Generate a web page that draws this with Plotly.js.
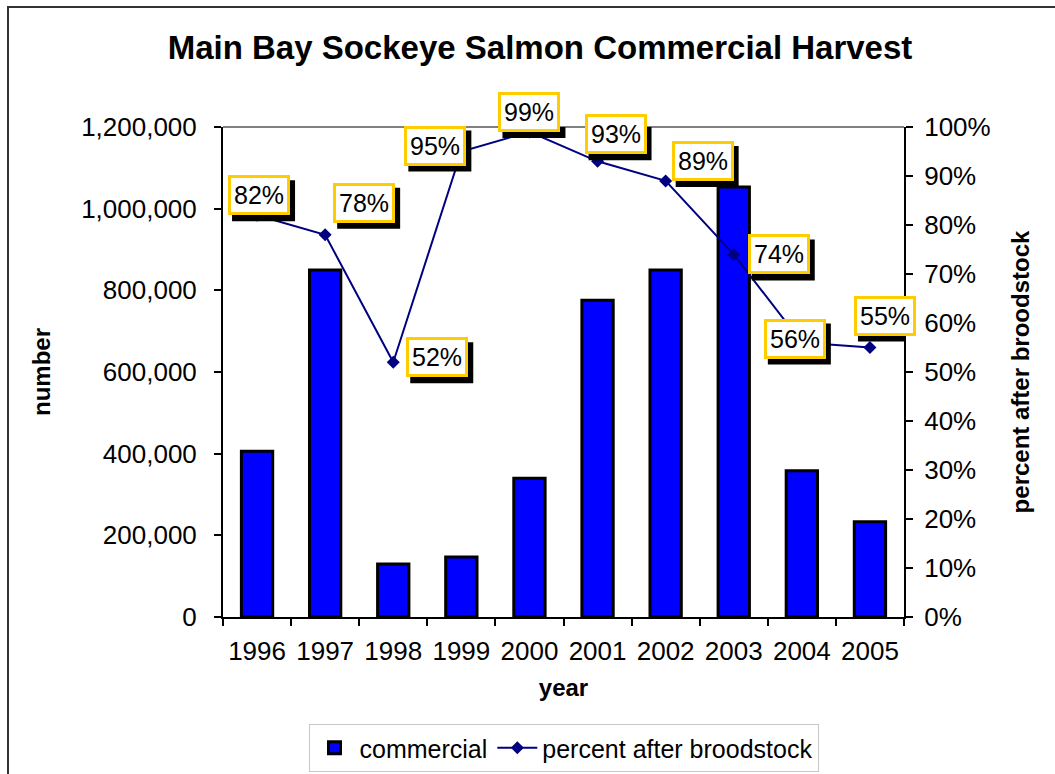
<!DOCTYPE html>
<html>
<head>
<meta charset="utf-8">
<script src="https://cdn.plot.ly/plotly-3.0.1.min.js"></script>
<style>
  html, body { margin: 0; padding: 0; background: #fff; }
  #graph { width: 1055px; height: 774px; }
</style>
</head>
<body>
<div id="graph"></div>
<script>
// data
const years = ["1996", "1997", "1998", "1999", "2000", "2001", "2002", "2003", "2004", "2005"];
const commercial = [406000, 850000, 130000, 147000, 340000, 776000, 850000, 1053000, 358000, 233000];
const percentAfterBroodstock = [82, 78, 52, 95, 99, 93, 89, 74, 56, 55];

// label box offsets (pixels) from each point
const labelDx = [2, 39, 44, -26, 0, 18, 37, 45, -7, 15];
const labelDy = [20, 32, 5, 6, 20, 27, 20, 0, 4, 32];

const FONT = "Liberation Sans, Arial, sans-serif";

const bars = {
    type: "bar",
    name: "commercial",
    x: years,
    y: commercial,
    width: 0.46,
    marker: { color: "#0000ff", line: { color: "#000000", width: 3 } }
};

const line = {
    type: "scatter",
    mode: "lines+markers",
    name: "percent after broodstock",
    x: years,
    y: percentAfterBroodstock,
    yaxis: "y2",
    line: { color: "#000080", width: 2 },
    marker: { symbol: "diamond", size: 10, color: "#000080" }
};

// data labels: white/yellow boxes, with a black drop shadow drawn as a pixel-sized shape
const annotations = [];
const shadows = [];
percentAfterBroodstock.forEach((v, i) => {
    annotations.push({
        x: i, y: v, xref: "x", yref: "y2",
        showarrow: false,
        text: v + "%",
        font: { family: FONT, size: 25, color: "black" },
        borderpad: 3, borderwidth: 3,
        xshift: labelDx[i], yshift: labelDy[i],
        bgcolor: "white", bordercolor: "#ffcc00"
    });
    shadows.push({
        type: "rect", xref: "x", yref: "y2",
        xsizemode: "pixel", ysizemode: "pixel",
        xanchor: i, yanchor: v,
        x0: labelDx[i] - 27, x1: labelDx[i] + 36,
        y0: labelDy[i] - 26, y1: labelDy[i] + 15,
        fillcolor: "black", line: { width: 0 }, layer: "above"
    });
});

const layout = {
    width: 1055,
    height: 774,
    margin: { l: 223, r: 151, t: 127, b: 157, autoexpand: false },
    paper_bgcolor: "#fff",
    plot_bgcolor: "#fff",
    font: { family: FONT, size: 26, color: "#000" },
    title: {
        text: "<b>Main Bay Sockeye Salmon Commercial Harvest</b>",
        font: { family: FONT, size: 33, color: "#000" },
        xref: "paper", x: 0.4655, xanchor: "center",
        yref: "container", y: 0.939, yanchor: "middle"
    },
    bargap: 0.54,
    xaxis: {
        type: "category",
        categoryarray: years,
        range: [-0.5, 9.5],
        tickson: "boundaries",
        ticks: "outside", ticklen: 7, tickwidth: 2, tickcolor: "#000",
        ticklabelstandoff: 10,
        showline: true, linecolor: "#000", linewidth: 2,
        showgrid: false, zeroline: false,
        tickfont: { family: FONT, size: 26, color: "#000" },
        title: { text: "<b>year</b>", font: { family: FONT, size: 24, color: "#000" }, standoff: 14 }
    },
    yaxis: {
        range: [0, 1200000],
        dtick: 200000,
        tickformat: ",d",
        ticks: "outside", ticklen: 7, tickwidth: 2, tickcolor: "#000",
        ticklabelstandoff: 12,
        showline: true, linecolor: "#000", linewidth: 2,
        showgrid: false, zeroline: false,
        tickfont: { family: FONT, size: 26, color: "#000" },
        title: { text: "<b>number</b>", font: { family: FONT, size: 24, color: "#000" }, standoff: 24 }
    },
    yaxis2: {
        overlaying: "y",
        side: "right",
        range: [0, 100],
        dtick: 10,
        ticksuffix: "%",
        ticks: "outside", ticklen: 7, tickwidth: 2, tickcolor: "#000",
        ticklabelstandoff: 6,
        showline: true, linecolor: "#000", linewidth: 2,
        showgrid: false, zeroline: false,
        tickfont: { family: FONT, size: 26, color: "#000" },
        title: { text: "<b>percent after broodstock</b>", font: { family: FONT, size: 24, color: "#000" }, standoff: 22 }
    },
    showlegend: true,
    legend: {
        orientation: "h",
        x: 0.5, xanchor: "center",
        yref: "container", y: 1 - 724 / 774, yanchor: "top",
        bordercolor: "#c8c8c8", borderwidth: 1,
        font: { family: FONT, size: 25, color: "#000" },
        itemwidth: 40,
        traceorder: "normal"
    },
    shapes: [
        // grey top edge of the plot area
        { type: "line", xref: "paper", yref: "paper", x0: 0, x1: 1, y0: 1, y1: 1,
          line: { color: "#808080", width: 2 } },
        // outer chart frame (only left and top edges are in view)
        { type: "rect", xref: "paper", yref: "paper", x0: -0.3157, x1: 1.4, y0: -0.5, y1: 1.245,
          line: { color: "#333", width: 2 }, layer: "below" }
    ].concat(shadows),
    annotations: annotations
};

Plotly.newPlot("graph", [bars, line], layout, { displayModeBar: false, staticPlot: true });
</script>
</body>
</html>
